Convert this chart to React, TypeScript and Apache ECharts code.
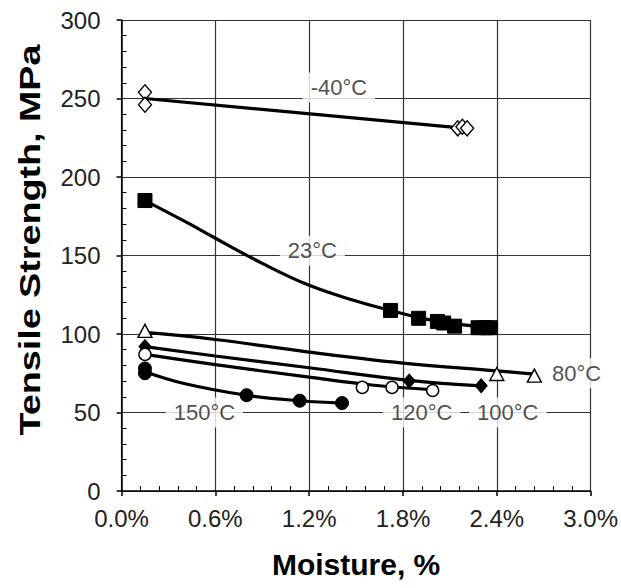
import React, { useEffect, useRef } from "react";
import * as echarts from "echarts";

// ---- data ----
const xTicks = [0, 0.6, 1.2, 1.8, 2.4, 3.0];
const yTicks = [0, 50, 100, 150, 200, 250, 300];

// -40°C
const m40Points = [[0.15, 254], [0.15, 246], [2.15, 231], [2.18, 232], [2.21, 231]];
const m40Curve = [[0.15, 250], [2.2, 231]];
// 23°C
const t23Points = [[0.15, 185], [1.72, 115], [1.9, 110], [2.02, 108], [2.06, 107], [2.13, 105], [2.28, 104], [2.33, 104], [2.36, 104]];
const t23Curve = [[0.15, 185], [0.4, 172], [0.6, 161], [0.9, 145], [1.2, 131], [1.5, 121], [1.72, 115], [2.0, 108.5], [2.36, 104]];
// 80°C
const t80Points = [[0.15, 102], [2.4, 74.5], [2.64, 73.5]];
const t80Curve = [[0.15, 101], [0.6, 96.5], [1.2, 88.5], [1.8, 81.5], [2.4, 76.5], [2.64, 74.5]];
// 100°C
const t100Points = [[0.15, 92], [1.84, 70], [2.3, 67]];
const t100Curve = [[0.15, 92], [0.6, 86], [1.2, 78.5], [1.84, 70.5], [2.3, 67]];
// 120°C
const t120Points = [[0.15, 87], [1.54, 66], [1.73, 66], [1.99, 64]];
const t120Curve = [[0.15, 87], [0.6, 80.5], [1.2, 72.5], [1.6, 67.5], [1.99, 64.5]];
// 150°C
const t150Points = [[0.15, 78], [0.15, 75], [0.8, 61], [1.14, 57.5], [1.41, 56]];
const t150Curve = [[0.15, 76], [0.4, 68.5], [0.8, 61], [1.14, 57.5], [1.41, 56]];

// curve labels: [x, y, text]
const curveLabels: [number, number, string][] = [
  [1.39, 257, "-40°C"],
  [1.22, 153, "23°C"],
  [2.91, 75, "80°C"],
  [0.53, 50, "150°C"],
  [1.92, 50, "120°C"],
  [2.47, 50, "100°C"],
];

const xTitle = "Moisture, %";
const yTitle = "Tensile Strength, MPa";

const FONT = "'Liberation Sans', Arial, sans-serif";

export default function App() {
  const ref = useRef<HTMLDivElement>(null);
  useEffect(() => {
    document.body.style.margin = "0";
    const chart = echarts.init(ref.current!, null, { renderer: "svg" });
    const lineSeries = (data: number[][], smooth: boolean) => ({
      type: "line",
      data,
      smooth: smooth ? 0.4 : false,
      showSymbol: false,
      symbol: "none",
      lineStyle: { color: "#000", width: 3.2 },
      z: 3,
      silent: true,
    });
    const pointSeries = (data: number[][], symbol: string, size: any, filled: boolean) => ({
      type: "scatter",
      data,
      symbol,
      symbolSize: size,
      itemStyle: filled
        ? { color: "#000", borderColor: "#000", borderWidth: 1, opacity: 1 }
        : { color: "#fff", borderColor: "#000", borderWidth: 1.4, opacity: 1 },
      z: 4,
    });
    const axisCommon = {
      min: 0,
      axisLine: { show: false },
      axisTick: { show: false },
      axisLabel: { show: false },
      splitLine: { show: false },
    };
    chart.setOption({
      animation: false,
      backgroundColor: "#fff",
      grid: { left: 121.5, right: 29.5, top: 20, bottom: 97, show: false },
      graphic: [
        {
          type: "text",
          x: 30,
          y: 240,
          rotation: Math.PI / 2,
          scaleX: 1.3,
          style: {
            text: yTitle,
            fontSize: 29,
            fontWeight: "bold",
            fontFamily: FONT,
            fill: "#000",
            align: "center",
            verticalAlign: "middle",
          },
          z: 10,
        },
      ],
      xAxis: [
        {
          type: "value",
          min: xTicks[0],
          max: xTicks[xTicks.length - 1],
          interval: 0.6,
          axisLine: { show: true, onZero: false, lineStyle: { color: "#000", width: 1.5 } },
          axisTick: { show: true, inside: false, length: 5, lineStyle: { color: "#000", width: 1.5 } },
          axisLabel: {
            margin: 15,
            fontSize: 24,
            fontFamily: FONT,
            color: "#222",
            formatter: (v: number) => v.toFixed(1) + "%",
          },
          splitLine: { show: true, lineStyle: { color: "#333", width: 1.2 } },
          name: xTitle,
          nameLocation: "middle",
          nameGap: 58,
          nameTextStyle: { fontSize: 30, fontWeight: "bold", fontFamily: FONT, color: "#000" },
        },
        {
          ...axisCommon,
          type: "value",
          position: "bottom",
          max: 3,
          interval: 0.6,
          axisTick: { show: false, inside: true },
          minorTick: { show: true, splitNumber: 5, length: 5, lineStyle: { color: "#000", width: 1 } },
        },
      ],
      yAxis: [
        {
          type: "value",
          min: yTicks[0],
          max: yTicks[yTicks.length - 1],
          interval: 50,
          axisLine: { show: true, onZero: false, lineStyle: { color: "#000", width: 1.5 } },
          axisTick: { show: true, inside: false, length: 5, lineStyle: { color: "#000", width: 1.5 } },
          axisLabel: { margin: 21, fontSize: 24, fontFamily: FONT, color: "#222" },
          splitLine: { show: true, lineStyle: { color: "#333", width: 1.2 } },
        },
        {
          ...axisCommon,
          type: "value",
          position: "left",
          max: 300,
          interval: 50,
          axisTick: { show: false, inside: true },
          minorTick: { show: true, splitNumber: 5, length: 5, lineStyle: { color: "#000", width: 1 } },
        },
      ],
      series: [
        lineSeries(m40Curve, false),
        lineSeries(t23Curve, true),
        lineSeries(t80Curve, true),
        lineSeries(t100Curve, true),
        lineSeries(t120Curve, true),
        lineSeries(t150Curve, true),
        pointSeries(m40Points, "diamond", [13, 15], false),
        pointSeries(t23Points, "rect", 14, true),
        pointSeries(t80Points, "triangle", [14, 13], false),
        pointSeries(t100Points, "diamond", [12, 14], true),
        pointSeries(t120Points, "circle", 12, false),
        pointSeries(t150Points, "circle", 13, true),
        {
          type: "scatter",
          symbolSize: 0,
          z: 2,
          silent: true,
          data: curveLabels.map(([x, y, t]) => ({ value: [x, y], name: t })),
          label: {
            show: true,
            position: "inside",
            formatter: (p: any) => p.name,
            fontSize: 22,
            fontFamily: FONT,
            color: "#222",
            backgroundColor: "#fff",
            padding: [4, 8],
          },
        },
      ],
    });
    return () => chart.dispose();
  }, []);
  return <div ref={ref} style={{ position: "absolute", left: 0, top: 0, width: 621, height: 588 }} />;
}
